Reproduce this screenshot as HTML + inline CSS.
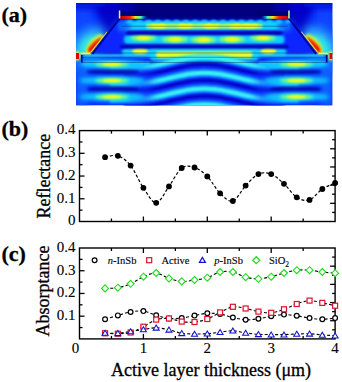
<!DOCTYPE html><html><head><meta charset="utf-8"><style>html,body{margin:0;padding:0;background:#fff;width:342px;height:382px;overflow:hidden}svg{display:block}</style></head><body>
<svg width="342" height="382" viewBox="0 0 342 382">
<rect width="342" height="382" fill="#fff"/>
<defs>
<clipPath id="hc"><rect x="76.0" y="3.0" width="256.5" height="102.6"/></clipPath>
<filter id="b05" x="-50%" y="-50%" width="200%" height="200%"><feGaussianBlur stdDeviation="0.5"/></filter>
<filter id="b08" x="-50%" y="-50%" width="200%" height="200%"><feGaussianBlur stdDeviation="0.8"/></filter>
<filter id="b1" x="-50%" y="-50%" width="200%" height="200%"><feGaussianBlur stdDeviation="1"/></filter>
<filter id="b15" x="-50%" y="-50%" width="200%" height="200%"><feGaussianBlur stdDeviation="1.5"/></filter>
<filter id="b2" x="-50%" y="-50%" width="200%" height="200%"><feGaussianBlur stdDeviation="2"/></filter>
<filter id="b25" x="-50%" y="-50%" width="200%" height="200%"><feGaussianBlur stdDeviation="2.5"/></filter>
<filter id="b3" x="-50%" y="-50%" width="200%" height="200%"><feGaussianBlur stdDeviation="3"/></filter>
<filter id="b4" x="-50%" y="-50%" width="200%" height="200%"><feGaussianBlur stdDeviation="4"/></filter>
<filter id="b6" x="-50%" y="-50%" width="200%" height="200%"><feGaussianBlur stdDeviation="6"/></filter>
<filter id="b8" x="-50%" y="-50%" width="200%" height="200%"><feGaussianBlur stdDeviation="8"/></filter>
</defs>
<g clip-path="url(#hc)">
<rect x="76.0" y="3.0" width="256.5" height="102.6" fill="#0a2cff"/>
<rect x="74.0" y="8" width="18" height="40" fill="#0a48ff" filter="url(#b6)"/>
<ellipse cx="78.0" cy="52" rx="24" ry="20" fill="#1070ff" filter="url(#b6)"/>
<ellipse cx="106.0" cy="24" rx="16" ry="6" fill="#0000c0" filter="url(#b4)" transform="rotate(-51.7 106.0 24)"/>
<rect x="316.5" y="8" width="18" height="40" fill="#0a48ff" filter="url(#b6)"/>
<ellipse cx="330.5" cy="52" rx="24" ry="20" fill="#1070ff" filter="url(#b6)"/>
<ellipse cx="302.5" cy="24" rx="16" ry="6" fill="#0000c0" filter="url(#b4)" transform="rotate(51.7 302.5 24)"/>
<ellipse cx="110" cy="10" rx="14" ry="10" fill="#0000c8" filter="url(#b3)"/>
<ellipse cx="298.5" cy="10" rx="14" ry="10" fill="#0000c8" filter="url(#b3)"/>
<rect x="118" y="-5" width="172.5" height="25" fill="#0000a8" filter="url(#b2)"/>
<rect x="135" y="-5" width="138.5" height="24" fill="#000080" filter="url(#b2)"/>
<rect x="70" y="-5" width="35" height="12" fill="#0008c8" filter="url(#b4)"/>
<rect x="303.5" y="-5" width="35" height="12" fill="#0008c8" filter="url(#b4)"/>
<polygon points="120,21 288.5,21 318.5,53 90,53" fill="#0828ff" filter="url(#b1)"/>
<rect x="124" y="21" width="160.5" height="9.5" rx="3" fill="#10d0ff" filter="url(#b1)"/>
<rect x="118" y="21" width="12" height="10" fill="#0a70ff" filter="url(#b2)"/>
<rect x="278.5" y="21" width="12" height="10" fill="#0a70ff" filter="url(#b2)"/>
<rect x="146" y="23.5" width="116.5" height="5" rx="2" fill="#b0ff50" filter="url(#b1)"/>
<ellipse cx="159.0" cy="26" rx="8" ry="2.3" fill="#ffff00" filter="url(#b08)"/>
<ellipse cx="185.0" cy="26" rx="8" ry="2.3" fill="#ffff00" filter="url(#b08)"/>
<ellipse cx="211.0" cy="26" rx="8" ry="2.3" fill="#ffff00" filter="url(#b08)"/>
<ellipse cx="237.0" cy="26" rx="8" ry="2.3" fill="#ffff00" filter="url(#b08)"/>
<ellipse cx="250.0" cy="26" rx="8" ry="2.3" fill="#ffff00" filter="url(#b08)"/>
<ellipse cx="130.0" cy="21.5" rx="3" ry="1.6" fill="#20d0ff" filter="url(#b08)"/>
<ellipse cx="139.3" cy="21.5" rx="3" ry="1.6" fill="#20d0ff" filter="url(#b08)"/>
<ellipse cx="148.6" cy="21.5" rx="3" ry="1.6" fill="#20d0ff" filter="url(#b08)"/>
<ellipse cx="157.9" cy="21.5" rx="3" ry="1.6" fill="#20d0ff" filter="url(#b08)"/>
<ellipse cx="167.2" cy="21.5" rx="3" ry="1.6" fill="#20d0ff" filter="url(#b08)"/>
<ellipse cx="176.5" cy="21.5" rx="3" ry="1.6" fill="#20d0ff" filter="url(#b08)"/>
<ellipse cx="185.8" cy="21.5" rx="3" ry="1.6" fill="#20d0ff" filter="url(#b08)"/>
<ellipse cx="195.1" cy="21.5" rx="3" ry="1.6" fill="#20d0ff" filter="url(#b08)"/>
<ellipse cx="204.4" cy="21.5" rx="3" ry="1.6" fill="#20d0ff" filter="url(#b08)"/>
<ellipse cx="213.7" cy="21.5" rx="3" ry="1.6" fill="#20d0ff" filter="url(#b08)"/>
<ellipse cx="223.0" cy="21.5" rx="3" ry="1.6" fill="#20d0ff" filter="url(#b08)"/>
<ellipse cx="232.3" cy="21.5" rx="3" ry="1.6" fill="#20d0ff" filter="url(#b08)"/>
<ellipse cx="241.6" cy="21.5" rx="3" ry="1.6" fill="#20d0ff" filter="url(#b08)"/>
<ellipse cx="250.9" cy="21.5" rx="3" ry="1.6" fill="#20d0ff" filter="url(#b08)"/>
<ellipse cx="260.2" cy="21.5" rx="3" ry="1.6" fill="#20d0ff" filter="url(#b08)"/>
<ellipse cx="269.5" cy="21.5" rx="3" ry="1.6" fill="#20d0ff" filter="url(#b08)"/>
<ellipse cx="278.8" cy="21.5" rx="3" ry="1.6" fill="#20d0ff" filter="url(#b08)"/>
<ellipse cx="288.1" cy="21.5" rx="3" ry="1.6" fill="#20d0ff" filter="url(#b08)"/>
<rect x="124" y="35" width="160.5" height="9" rx="4" fill="#10d0ff" filter="url(#b15)"/>
<ellipse cx="143.5" cy="37.8" rx="13" ry="3.4" fill="#80ff70" filter="url(#b15)"/>
<ellipse cx="143.5" cy="37.8" rx="7" ry="2" fill="#ffff10" filter="url(#b1)"/>
<ellipse cx="175.0" cy="39.4" rx="13" ry="3.4" fill="#80ff70" filter="url(#b15)"/>
<ellipse cx="175.0" cy="39.4" rx="7" ry="2" fill="#ffff10" filter="url(#b1)"/>
<ellipse cx="203.5" cy="39.8" rx="13" ry="3.4" fill="#80ff70" filter="url(#b15)"/>
<ellipse cx="203.5" cy="39.8" rx="7" ry="2" fill="#ffff10" filter="url(#b1)"/>
<ellipse cx="232.0" cy="39.4" rx="13" ry="3.4" fill="#80ff70" filter="url(#b15)"/>
<ellipse cx="232.0" cy="39.4" rx="7" ry="2" fill="#ffff10" filter="url(#b1)"/>
<ellipse cx="263.0" cy="37.8" rx="13" ry="3.4" fill="#80ff70" filter="url(#b15)"/>
<ellipse cx="263.0" cy="37.8" rx="7" ry="2" fill="#ffff10" filter="url(#b1)"/>
<rect x="122" y="48" width="164.5" height="8" rx="4" fill="#18d0ff" filter="url(#b15)"/>
<rect x="84" y="54.3" width="240.5" height="2.8" fill="#20c8ff" filter="url(#b08)"/>
<rect x="150" y="48" width="108.5" height="13" rx="4" fill="#18d0ff" filter="url(#b15)"/>
<rect x="156" y="51.5" width="96.5" height="6.5" rx="3" fill="#e0ff30" filter="url(#b1)"/>
<ellipse cx="140.0" cy="51" rx="8" ry="3" fill="#f0ff20" filter="url(#b1)"/>
<ellipse cx="268.5" cy="51" rx="8" ry="3" fill="#f0ff20" filter="url(#b1)"/>
<rect x="126" y="31.2" width="156.5" height="3.6" rx="1.5" fill="#0000b0" filter="url(#b08)"/>
<rect x="120" y="45" width="168.5" height="3.6" rx="1.5" fill="#0000b0" filter="url(#b08)"/>
<rect x="76" y="62" width="12" height="44" fill="#1060ff" filter="url(#b3)"/>
<rect x="320.5" y="62" width="12" height="44" fill="#1060ff" filter="url(#b3)"/>
<rect x="125" y="63" width="158.5" height="43" fill="#0830ff" filter="url(#b3)"/>
<path d="M110.00,67.60 C110.79,67.60 113.14,67.60 114.71,67.60 C116.28,67.60 117.85,67.60 119.42,67.60 C121.00,67.60 122.57,67.60 124.14,67.60 C125.71,67.60 127.28,67.60 128.85,67.60 C130.42,67.60 131.99,67.61 133.56,67.60 C135.13,67.59 136.70,67.58 138.28,67.51 C139.85,67.45 141.42,67.34 142.99,67.20 C144.56,67.06 146.13,66.88 147.70,66.67 C149.27,66.46 150.84,66.22 152.41,65.95 C153.98,65.68 155.55,65.38 157.12,65.07 C158.70,64.75 160.27,64.41 161.84,64.06 C163.41,63.72 164.98,63.35 166.55,62.98 C168.12,62.62 169.69,62.24 171.26,61.88 C172.83,61.51 174.40,61.14 175.97,60.79 C177.55,60.44 179.12,60.09 180.69,59.77 C182.26,59.45 183.83,59.14 185.40,58.87 C186.97,58.59 188.54,58.34 190.11,58.12 C191.68,57.90 193.25,57.71 194.82,57.56 C196.40,57.41 197.97,57.29 199.54,57.22 C201.11,57.14 202.68,57.10 204.25,57.10 C205.82,57.10 207.39,57.14 208.96,57.22 C210.53,57.29 212.10,57.41 213.68,57.56 C215.25,57.71 216.82,57.90 218.39,58.12 C219.96,58.34 221.53,58.59 223.10,58.87 C224.67,59.14 226.24,59.45 227.81,59.77 C229.38,60.09 230.95,60.44 232.53,60.79 C234.10,61.14 235.67,61.51 237.24,61.88 C238.81,62.24 240.38,62.62 241.95,62.98 C243.52,63.35 245.09,63.72 246.66,64.06 C248.23,64.41 249.80,64.75 251.38,65.07 C252.95,65.38 254.52,65.68 256.09,65.95 C257.66,66.22 259.23,66.46 260.80,66.67 C262.37,66.88 263.94,67.06 265.51,67.20 C267.08,67.34 268.65,67.45 270.23,67.51 C271.80,67.58 273.37,67.59 274.94,67.60 C276.51,67.61 278.08,67.60 279.65,67.60 C281.22,67.60 282.79,67.60 284.36,67.60 C285.93,67.60 287.50,67.60 289.07,67.60 C290.65,67.60 292.22,67.60 293.79,67.60 C295.36,67.60 297.71,67.60 298.50,67.60" fill="none" stroke="#18e0ff" stroke-width="6.2" filter="url(#b15)"/>
<path d="M142.99,67.20 C143.77,67.11 146.13,66.88 147.70,66.67 C149.27,66.46 150.84,66.22 152.41,65.95 C153.98,65.68 155.55,65.38 157.12,65.07 C158.70,64.75 160.27,64.41 161.84,64.06 C163.41,63.72 164.98,63.35 166.55,62.98 C168.12,62.62 169.69,62.24 171.26,61.88 C172.83,61.51 174.40,61.14 175.97,60.79 C177.55,60.44 179.12,60.09 180.69,59.77 C182.26,59.45 183.83,59.14 185.40,58.87 C186.97,58.59 188.54,58.34 190.11,58.12 C191.68,57.90 193.25,57.71 194.82,57.56 C196.40,57.41 197.97,57.29 199.54,57.22 C201.11,57.14 202.68,57.10 204.25,57.10 C205.82,57.10 207.39,57.14 208.96,57.22 C210.53,57.29 212.10,57.41 213.68,57.56 C215.25,57.71 216.82,57.90 218.39,58.12 C219.96,58.34 221.53,58.59 223.10,58.87 C224.67,59.14 226.24,59.45 227.81,59.77 C229.38,60.09 230.95,60.44 232.53,60.79 C234.10,61.14 235.67,61.51 237.24,61.88 C238.81,62.24 240.38,62.62 241.95,62.98 C243.52,63.35 245.09,63.72 246.66,64.06 C248.23,64.41 249.80,64.75 251.38,65.07 C252.95,65.38 254.52,65.68 256.09,65.95 C257.66,66.22 259.23,66.46 260.80,66.67 C262.37,66.88 264.73,67.11 265.51,67.20" fill="none" stroke="#70ffe8" stroke-width="1.8" filter="url(#b1)" opacity="0.8"/>
<path d="M110.00,83.40 C110.79,83.40 113.14,83.40 114.71,83.40 C116.28,83.40 117.85,83.40 119.42,83.40 C121.00,83.40 122.57,83.40 124.14,83.40 C125.71,83.40 127.28,83.40 128.85,83.40 C130.42,83.40 131.99,83.41 133.56,83.40 C135.13,83.39 136.70,83.38 138.28,83.31 C139.85,83.25 141.42,83.14 142.99,83.00 C144.56,82.86 146.13,82.68 147.70,82.47 C149.27,82.26 150.84,82.02 152.41,81.75 C153.98,81.48 155.55,81.18 157.12,80.87 C158.70,80.55 160.27,80.21 161.84,79.86 C163.41,79.52 164.98,79.15 166.55,78.78 C168.12,78.42 169.69,78.04 171.26,77.68 C172.83,77.31 174.40,76.94 175.97,76.59 C177.55,76.24 179.12,75.89 180.69,75.57 C182.26,75.25 183.83,74.94 185.40,74.67 C186.97,74.39 188.54,74.14 190.11,73.92 C191.68,73.70 193.25,73.51 194.82,73.36 C196.40,73.21 197.97,73.09 199.54,73.02 C201.11,72.94 202.68,72.90 204.25,72.90 C205.82,72.90 207.39,72.94 208.96,73.02 C210.53,73.09 212.10,73.21 213.68,73.36 C215.25,73.51 216.82,73.70 218.39,73.92 C219.96,74.14 221.53,74.39 223.10,74.67 C224.67,74.94 226.24,75.25 227.81,75.57 C229.38,75.89 230.95,76.24 232.53,76.59 C234.10,76.94 235.67,77.31 237.24,77.68 C238.81,78.04 240.38,78.42 241.95,78.78 C243.52,79.15 245.09,79.52 246.66,79.86 C248.23,80.21 249.80,80.55 251.38,80.87 C252.95,81.18 254.52,81.48 256.09,81.75 C257.66,82.02 259.23,82.26 260.80,82.47 C262.37,82.68 263.94,82.86 265.51,83.00 C267.08,83.14 268.65,83.25 270.23,83.31 C271.80,83.38 273.37,83.39 274.94,83.40 C276.51,83.41 278.08,83.40 279.65,83.40 C281.22,83.40 282.79,83.40 284.36,83.40 C285.93,83.40 287.50,83.40 289.07,83.40 C290.65,83.40 292.22,83.40 293.79,83.40 C295.36,83.40 297.71,83.40 298.50,83.40" fill="none" stroke="#18e0ff" stroke-width="6.2" filter="url(#b15)"/>
<path d="M142.99,83.00 C143.77,82.91 146.13,82.68 147.70,82.47 C149.27,82.26 150.84,82.02 152.41,81.75 C153.98,81.48 155.55,81.18 157.12,80.87 C158.70,80.55 160.27,80.21 161.84,79.86 C163.41,79.52 164.98,79.15 166.55,78.78 C168.12,78.42 169.69,78.04 171.26,77.68 C172.83,77.31 174.40,76.94 175.97,76.59 C177.55,76.24 179.12,75.89 180.69,75.57 C182.26,75.25 183.83,74.94 185.40,74.67 C186.97,74.39 188.54,74.14 190.11,73.92 C191.68,73.70 193.25,73.51 194.82,73.36 C196.40,73.21 197.97,73.09 199.54,73.02 C201.11,72.94 202.68,72.90 204.25,72.90 C205.82,72.90 207.39,72.94 208.96,73.02 C210.53,73.09 212.10,73.21 213.68,73.36 C215.25,73.51 216.82,73.70 218.39,73.92 C219.96,74.14 221.53,74.39 223.10,74.67 C224.67,74.94 226.24,75.25 227.81,75.57 C229.38,75.89 230.95,76.24 232.53,76.59 C234.10,76.94 235.67,77.31 237.24,77.68 C238.81,78.04 240.38,78.42 241.95,78.78 C243.52,79.15 245.09,79.52 246.66,79.86 C248.23,80.21 249.80,80.55 251.38,80.87 C252.95,81.18 254.52,81.48 256.09,81.75 C257.66,82.02 259.23,82.26 260.80,82.47 C262.37,82.68 264.73,82.91 265.51,83.00" fill="none" stroke="#70ffe8" stroke-width="1.8" filter="url(#b1)" opacity="0.8"/>
<path d="M110.00,99.20 C110.79,99.20 113.14,99.20 114.71,99.20 C116.28,99.20 117.85,99.20 119.42,99.20 C121.00,99.20 122.57,99.20 124.14,99.20 C125.71,99.20 127.28,99.20 128.85,99.20 C130.42,99.20 131.99,99.21 133.56,99.20 C135.13,99.19 136.70,99.18 138.28,99.11 C139.85,99.05 141.42,98.94 142.99,98.80 C144.56,98.66 146.13,98.48 147.70,98.27 C149.27,98.06 150.84,97.82 152.41,97.55 C153.98,97.28 155.55,96.98 157.12,96.67 C158.70,96.35 160.27,96.01 161.84,95.66 C163.41,95.32 164.98,94.95 166.55,94.58 C168.12,94.22 169.69,93.84 171.26,93.48 C172.83,93.11 174.40,92.74 175.97,92.39 C177.55,92.04 179.12,91.69 180.69,91.37 C182.26,91.05 183.83,90.74 185.40,90.47 C186.97,90.19 188.54,89.94 190.11,89.72 C191.68,89.50 193.25,89.31 194.82,89.16 C196.40,89.01 197.97,88.89 199.54,88.82 C201.11,88.74 202.68,88.70 204.25,88.70 C205.82,88.70 207.39,88.74 208.96,88.82 C210.53,88.89 212.10,89.01 213.68,89.16 C215.25,89.31 216.82,89.50 218.39,89.72 C219.96,89.94 221.53,90.19 223.10,90.47 C224.67,90.74 226.24,91.05 227.81,91.37 C229.38,91.69 230.95,92.04 232.53,92.39 C234.10,92.74 235.67,93.11 237.24,93.48 C238.81,93.84 240.38,94.22 241.95,94.58 C243.52,94.95 245.09,95.32 246.66,95.66 C248.23,96.01 249.80,96.35 251.38,96.67 C252.95,96.98 254.52,97.28 256.09,97.55 C257.66,97.82 259.23,98.06 260.80,98.27 C262.37,98.48 263.94,98.66 265.51,98.80 C267.08,98.94 268.65,99.05 270.23,99.11 C271.80,99.18 273.37,99.19 274.94,99.20 C276.51,99.21 278.08,99.20 279.65,99.20 C281.22,99.20 282.79,99.20 284.36,99.20 C285.93,99.20 287.50,99.20 289.07,99.20 C290.65,99.20 292.22,99.20 293.79,99.20 C295.36,99.20 297.71,99.20 298.50,99.20" fill="none" stroke="#18e0ff" stroke-width="6.2" filter="url(#b15)"/>
<path d="M142.99,98.80 C143.77,98.71 146.13,98.48 147.70,98.27 C149.27,98.06 150.84,97.82 152.41,97.55 C153.98,97.28 155.55,96.98 157.12,96.67 C158.70,96.35 160.27,96.01 161.84,95.66 C163.41,95.32 164.98,94.95 166.55,94.58 C168.12,94.22 169.69,93.84 171.26,93.48 C172.83,93.11 174.40,92.74 175.97,92.39 C177.55,92.04 179.12,91.69 180.69,91.37 C182.26,91.05 183.83,90.74 185.40,90.47 C186.97,90.19 188.54,89.94 190.11,89.72 C191.68,89.50 193.25,89.31 194.82,89.16 C196.40,89.01 197.97,88.89 199.54,88.82 C201.11,88.74 202.68,88.70 204.25,88.70 C205.82,88.70 207.39,88.74 208.96,88.82 C210.53,88.89 212.10,89.01 213.68,89.16 C215.25,89.31 216.82,89.50 218.39,89.72 C219.96,89.94 221.53,90.19 223.10,90.47 C224.67,90.74 226.24,91.05 227.81,91.37 C229.38,91.69 230.95,92.04 232.53,92.39 C234.10,92.74 235.67,93.11 237.24,93.48 C238.81,93.84 240.38,94.22 241.95,94.58 C243.52,94.95 245.09,95.32 246.66,95.66 C248.23,96.01 249.80,96.35 251.38,96.67 C252.95,96.98 254.52,97.28 256.09,97.55 C257.66,97.82 259.23,98.06 260.80,98.27 C262.37,98.48 264.73,98.71 265.51,98.80" fill="none" stroke="#70ffe8" stroke-width="1.8" filter="url(#b1)" opacity="0.8"/>
<path d="M110.00,115.00 C110.79,115.00 113.14,115.00 114.71,115.00 C116.28,115.00 117.85,115.00 119.42,115.00 C121.00,115.00 122.57,115.00 124.14,115.00 C125.71,115.00 127.28,115.00 128.85,115.00 C130.42,115.00 131.99,115.01 133.56,115.00 C135.13,114.99 136.70,114.98 138.28,114.91 C139.85,114.85 141.42,114.74 142.99,114.60 C144.56,114.46 146.13,114.28 147.70,114.07 C149.27,113.86 150.84,113.62 152.41,113.35 C153.98,113.08 155.55,112.78 157.12,112.47 C158.70,112.15 160.27,111.81 161.84,111.46 C163.41,111.12 164.98,110.75 166.55,110.38 C168.12,110.02 169.69,109.64 171.26,109.28 C172.83,108.91 174.40,108.54 175.97,108.19 C177.55,107.84 179.12,107.49 180.69,107.17 C182.26,106.85 183.83,106.54 185.40,106.27 C186.97,105.99 188.54,105.74 190.11,105.52 C191.68,105.30 193.25,105.11 194.82,104.96 C196.40,104.81 197.97,104.69 199.54,104.62 C201.11,104.54 202.68,104.50 204.25,104.50 C205.82,104.50 207.39,104.54 208.96,104.62 C210.53,104.69 212.10,104.81 213.68,104.96 C215.25,105.11 216.82,105.30 218.39,105.52 C219.96,105.74 221.53,105.99 223.10,106.27 C224.67,106.54 226.24,106.85 227.81,107.17 C229.38,107.49 230.95,107.84 232.53,108.19 C234.10,108.54 235.67,108.91 237.24,109.28 C238.81,109.64 240.38,110.02 241.95,110.38 C243.52,110.75 245.09,111.12 246.66,111.46 C248.23,111.81 249.80,112.15 251.38,112.47 C252.95,112.78 254.52,113.08 256.09,113.35 C257.66,113.62 259.23,113.86 260.80,114.07 C262.37,114.28 263.94,114.46 265.51,114.60 C267.08,114.74 268.65,114.85 270.23,114.91 C271.80,114.98 273.37,114.99 274.94,115.00 C276.51,115.01 278.08,115.00 279.65,115.00 C281.22,115.00 282.79,115.00 284.36,115.00 C285.93,115.00 287.50,115.00 289.07,115.00 C290.65,115.00 292.22,115.00 293.79,115.00 C295.36,115.00 297.71,115.00 298.50,115.00" fill="none" stroke="#18e0ff" stroke-width="6.2" filter="url(#b15)"/>
<path d="M142.99,114.60 C143.77,114.51 146.13,114.28 147.70,114.07 C149.27,113.86 150.84,113.62 152.41,113.35 C153.98,113.08 155.55,112.78 157.12,112.47 C158.70,112.15 160.27,111.81 161.84,111.46 C163.41,111.12 164.98,110.75 166.55,110.38 C168.12,110.02 169.69,109.64 171.26,109.28 C172.83,108.91 174.40,108.54 175.97,108.19 C177.55,107.84 179.12,107.49 180.69,107.17 C182.26,106.85 183.83,106.54 185.40,106.27 C186.97,105.99 188.54,105.74 190.11,105.52 C191.68,105.30 193.25,105.11 194.82,104.96 C196.40,104.81 197.97,104.69 199.54,104.62 C201.11,104.54 202.68,104.50 204.25,104.50 C205.82,104.50 207.39,104.54 208.96,104.62 C210.53,104.69 212.10,104.81 213.68,104.96 C215.25,105.11 216.82,105.30 218.39,105.52 C219.96,105.74 221.53,105.99 223.10,106.27 C224.67,106.54 226.24,106.85 227.81,107.17 C229.38,107.49 230.95,107.84 232.53,108.19 C234.10,108.54 235.67,108.91 237.24,109.28 C238.81,109.64 240.38,110.02 241.95,110.38 C243.52,110.75 245.09,111.12 246.66,111.46 C248.23,111.81 249.80,112.15 251.38,112.47 C252.95,112.78 254.52,113.08 256.09,113.35 C257.66,113.62 259.23,113.86 260.80,114.07 C262.37,114.28 264.73,114.51 265.51,114.60" fill="none" stroke="#70ffe8" stroke-width="1.8" filter="url(#b1)" opacity="0.8"/>
<path d="M124.14,75.00 C124.92,75.00 127.28,75.00 128.85,75.00 C130.42,75.00 131.99,75.01 133.56,75.00 C135.13,74.99 136.70,74.98 138.28,74.91 C139.85,74.85 141.42,74.74 142.99,74.60 C144.56,74.46 146.13,74.28 147.70,74.07 C149.27,73.86 150.84,73.62 152.41,73.35 C153.98,73.08 155.55,72.78 157.12,72.47 C158.70,72.15 160.27,71.81 161.84,71.46 C163.41,71.12 164.98,70.75 166.55,70.38 C168.12,70.02 169.69,69.64 171.26,69.28 C172.83,68.91 174.40,68.54 175.97,68.19 C177.55,67.84 179.12,67.49 180.69,67.17 C182.26,66.85 183.83,66.54 185.40,66.27 C186.97,65.99 188.54,65.74 190.11,65.52 C191.68,65.30 193.25,65.11 194.82,64.96 C196.40,64.81 197.97,64.69 199.54,64.62 C201.11,64.54 202.68,64.50 204.25,64.50 C205.82,64.50 207.39,64.54 208.96,64.62 C210.53,64.69 212.10,64.81 213.68,64.96 C215.25,65.11 216.82,65.30 218.39,65.52 C219.96,65.74 221.53,65.99 223.10,66.27 C224.67,66.54 226.24,66.85 227.81,67.17 C229.38,67.49 230.95,67.84 232.53,68.19 C234.10,68.54 235.67,68.91 237.24,69.28 C238.81,69.64 240.38,70.02 241.95,70.38 C243.52,70.75 245.09,71.12 246.66,71.46 C248.23,71.81 249.80,72.15 251.38,72.47 C252.95,72.78 254.52,73.08 256.09,73.35 C257.66,73.62 259.23,73.86 260.80,74.07 C262.37,74.28 263.94,74.46 265.51,74.60 C267.08,74.74 268.65,74.85 270.23,74.91 C271.80,74.98 273.37,74.99 274.94,75.00 C276.51,75.01 278.08,75.00 279.65,75.00 C281.22,75.00 283.58,75.00 284.36,75.00" fill="none" stroke="#0000c0" stroke-width="3.2" filter="url(#b1)"/>
<path d="M124.14,90.80 C124.92,90.80 127.28,90.80 128.85,90.80 C130.42,90.80 131.99,90.81 133.56,90.80 C135.13,90.79 136.70,90.78 138.28,90.71 C139.85,90.65 141.42,90.54 142.99,90.40 C144.56,90.26 146.13,90.08 147.70,89.87 C149.27,89.66 150.84,89.42 152.41,89.15 C153.98,88.88 155.55,88.58 157.12,88.27 C158.70,87.95 160.27,87.61 161.84,87.26 C163.41,86.92 164.98,86.55 166.55,86.18 C168.12,85.82 169.69,85.44 171.26,85.08 C172.83,84.71 174.40,84.34 175.97,83.99 C177.55,83.64 179.12,83.29 180.69,82.97 C182.26,82.65 183.83,82.34 185.40,82.07 C186.97,81.79 188.54,81.54 190.11,81.32 C191.68,81.10 193.25,80.91 194.82,80.76 C196.40,80.61 197.97,80.49 199.54,80.42 C201.11,80.34 202.68,80.30 204.25,80.30 C205.82,80.30 207.39,80.34 208.96,80.42 C210.53,80.49 212.10,80.61 213.68,80.76 C215.25,80.91 216.82,81.10 218.39,81.32 C219.96,81.54 221.53,81.79 223.10,82.07 C224.67,82.34 226.24,82.65 227.81,82.97 C229.38,83.29 230.95,83.64 232.53,83.99 C234.10,84.34 235.67,84.71 237.24,85.08 C238.81,85.44 240.38,85.82 241.95,86.18 C243.52,86.55 245.09,86.92 246.66,87.26 C248.23,87.61 249.80,87.95 251.38,88.27 C252.95,88.58 254.52,88.88 256.09,89.15 C257.66,89.42 259.23,89.66 260.80,89.87 C262.37,90.08 263.94,90.26 265.51,90.40 C267.08,90.54 268.65,90.65 270.23,90.71 C271.80,90.78 273.37,90.79 274.94,90.80 C276.51,90.81 278.08,90.80 279.65,90.80 C281.22,90.80 283.58,90.80 284.36,90.80" fill="none" stroke="#0000c0" stroke-width="3.2" filter="url(#b1)"/>
<path d="M124.14,106.60 C124.92,106.60 127.28,106.60 128.85,106.60 C130.42,106.60 131.99,106.61 133.56,106.60 C135.13,106.59 136.70,106.58 138.28,106.51 C139.85,106.45 141.42,106.34 142.99,106.20 C144.56,106.06 146.13,105.88 147.70,105.67 C149.27,105.46 150.84,105.22 152.41,104.95 C153.98,104.68 155.55,104.38 157.12,104.07 C158.70,103.75 160.27,103.41 161.84,103.06 C163.41,102.72 164.98,102.35 166.55,101.98 C168.12,101.62 169.69,101.24 171.26,100.88 C172.83,100.51 174.40,100.14 175.97,99.79 C177.55,99.44 179.12,99.09 180.69,98.77 C182.26,98.45 183.83,98.14 185.40,97.87 C186.97,97.59 188.54,97.34 190.11,97.12 C191.68,96.90 193.25,96.71 194.82,96.56 C196.40,96.41 197.97,96.29 199.54,96.22 C201.11,96.14 202.68,96.10 204.25,96.10 C205.82,96.10 207.39,96.14 208.96,96.22 C210.53,96.29 212.10,96.41 213.68,96.56 C215.25,96.71 216.82,96.90 218.39,97.12 C219.96,97.34 221.53,97.59 223.10,97.87 C224.67,98.14 226.24,98.45 227.81,98.77 C229.38,99.09 230.95,99.44 232.53,99.79 C234.10,100.14 235.67,100.51 237.24,100.88 C238.81,101.24 240.38,101.62 241.95,101.98 C243.52,102.35 245.09,102.72 246.66,103.06 C248.23,103.41 249.80,103.75 251.38,104.07 C252.95,104.38 254.52,104.68 256.09,104.95 C257.66,105.22 259.23,105.46 260.80,105.67 C262.37,105.88 263.94,106.06 265.51,106.20 C267.08,106.34 268.65,106.45 270.23,106.51 C271.80,106.58 273.37,106.59 274.94,106.60 C276.51,106.61 278.08,106.60 279.65,106.60 C281.22,106.60 283.58,106.60 284.36,106.60" fill="none" stroke="#0000c0" stroke-width="3.2" filter="url(#b1)"/>
<rect x="128" y="68" width="24" height="40" fill="#0838ff" opacity="0.55" filter="url(#b4)"/>
<rect x="256.5" y="68" width="24" height="40" fill="#0838ff" opacity="0.55" filter="url(#b4)"/>
<rect x="84" y="62" width="66" height="3" fill="#18d8ff" filter="url(#b1)"/>
<rect x="258.5" y="62" width="66" height="3" fill="#18d8ff" filter="url(#b1)"/>
<ellipse cx="113.0" cy="71.5" rx="26" ry="3" fill="#0000b0" filter="url(#b15)"/>
<ellipse cx="113.0" cy="89.3" rx="26" ry="3" fill="#0000b0" filter="url(#b15)"/>
<ellipse cx="295.5" cy="71.5" rx="26" ry="3" fill="#0000b0" filter="url(#b15)"/>
<ellipse cx="295.5" cy="89.3" rx="26" ry="3" fill="#0000b0" filter="url(#b15)"/>
<ellipse cx="112.0" cy="64.3" rx="33" ry="4.6" fill="#10c8ff" filter="url(#b2)"/>
<ellipse cx="112.0" cy="64.3" rx="17" ry="2.6" fill="#70ff90" filter="url(#b15)"/>
<ellipse cx="112.0" cy="64.3" rx="10" ry="1.6" fill="#f8ff10" filter="url(#b1)"/>
<ellipse cx="296.5" cy="64.3" rx="33" ry="4.6" fill="#10c8ff" filter="url(#b2)"/>
<ellipse cx="296.5" cy="64.3" rx="17" ry="2.6" fill="#70ff90" filter="url(#b15)"/>
<ellipse cx="296.5" cy="64.3" rx="10" ry="1.6" fill="#f8ff10" filter="url(#b1)"/>
<ellipse cx="112.0" cy="80.6" rx="33" ry="4.6" fill="#10c8ff" filter="url(#b2)"/>
<ellipse cx="112.0" cy="80.6" rx="17" ry="2.6" fill="#70ff90" filter="url(#b15)"/>
<ellipse cx="112.0" cy="80.6" rx="10" ry="1.6" fill="#f8ff10" filter="url(#b1)"/>
<ellipse cx="296.5" cy="80.6" rx="33" ry="4.6" fill="#10c8ff" filter="url(#b2)"/>
<ellipse cx="296.5" cy="80.6" rx="17" ry="2.6" fill="#70ff90" filter="url(#b15)"/>
<ellipse cx="296.5" cy="80.6" rx="10" ry="1.6" fill="#f8ff10" filter="url(#b1)"/>
<ellipse cx="112.0" cy="96.8" rx="33" ry="4.6" fill="#10c8ff" filter="url(#b2)"/>
<ellipse cx="112.0" cy="96.8" rx="17" ry="2.6" fill="#70ff90" filter="url(#b15)"/>
<ellipse cx="112.0" cy="96.8" rx="10" ry="1.6" fill="#f8ff10" filter="url(#b1)"/>
<ellipse cx="296.5" cy="96.8" rx="33" ry="4.6" fill="#10c8ff" filter="url(#b2)"/>
<ellipse cx="296.5" cy="96.8" rx="17" ry="2.6" fill="#70ff90" filter="url(#b15)"/>
<ellipse cx="296.5" cy="96.8" rx="10" ry="1.6" fill="#f8ff10" filter="url(#b1)"/>
<clipPath id="outL"><polygon points="0,0 119.5,0 119.5,17 90.6,53.6 0,53.6"/></clipPath>
<clipPath id="outR"><polygon points="400,0 289.0,0 289.0,17 317.9,53.6 400,53.6"/></clipPath>
<g clip-path="url(#outL)">
<ellipse cx="90.0" cy="42" rx="20" ry="12" fill="#2898ff" filter="url(#b4)" transform="rotate(-51.7 90.0 42)"/>
<ellipse cx="88.0" cy="46" rx="13" ry="8" fill="#30e8e0" filter="url(#b3)" transform="rotate(-51.7 88.0 46)"/>
<ellipse cx="95.0" cy="44" rx="12" ry="5.5" fill="#a0ff60" filter="url(#b15)" transform="rotate(-51.7 95.0 44)"/>
<polygon points="103.1,35.95 97.1,43.45 91.6,50.95 90.1,53.95 86.6,53.45 86.6,48.45 89.6,44.45 94.1,39.95 100.1,35.95" fill="#ffc000" filter="url(#b08)"/>
<polygon points="102.0,38.05 96.5,44.75 91.2,51.75 89.2,52.65 88.2,49.45 90.6,45.95 95.1,41.45 100.4,37.75" fill="#e81000" filter="url(#b08)"/>
<line x1="107.4" y1="32" x2="90.2" y2="53.6" stroke="#ffff40" stroke-width="1.3" filter="url(#b05)"/>
</g>
<line x1="120.8" y1="17" x2="92.5" y2="54" stroke="#0000a0" stroke-width="1.8" filter="url(#b05)"/>
<rect x="80.5" y="52.6" width="10.5" height="1.8" fill="#f0ff40" filter="url(#b05)"/>
<ellipse cx="77.5" cy="56" rx="3" ry="5" fill="#d0ff40" filter="url(#b1)"/>
<rect x="76.0" y="53" width="3" height="6" fill="#e00000" filter="url(#b05)"/>
<rect x="81.0" y="55" width="1.6" height="7.5" fill="#000090" filter="url(#b05)"/>
<g clip-path="url(#outR)">
<ellipse cx="318.5" cy="42" rx="20" ry="12" fill="#2898ff" filter="url(#b4)" transform="rotate(51.7 318.5 42)"/>
<ellipse cx="320.5" cy="46" rx="13" ry="8" fill="#30e8e0" filter="url(#b3)" transform="rotate(51.7 320.5 46)"/>
<ellipse cx="313.5" cy="44" rx="12" ry="5.5" fill="#a0ff60" filter="url(#b15)" transform="rotate(51.7 313.5 44)"/>
<polygon points="305.4,35.95 311.4,43.45 316.9,50.95 318.4,53.95 321.9,53.45 321.9,48.45 318.9,44.45 314.4,39.95 308.4,35.95" fill="#ffc000" filter="url(#b08)"/>
<polygon points="306.5,38.05 312.0,44.75 317.3,51.75 319.3,52.65 320.3,49.45 317.9,45.95 313.4,41.45 308.1,37.75" fill="#e81000" filter="url(#b08)"/>
<line x1="301.1" y1="32" x2="318.3" y2="53.6" stroke="#ffff40" stroke-width="1.3" filter="url(#b05)"/>
</g>
<line x1="287.7" y1="17" x2="316.0" y2="54" stroke="#0000a0" stroke-width="1.8" filter="url(#b05)"/>
<rect x="317.5" y="52.6" width="10.5" height="1.8" fill="#f0ff40" filter="url(#b05)"/>
<ellipse cx="331.0" cy="56" rx="3" ry="5" fill="#d0ff40" filter="url(#b1)"/>
<rect x="329.5" y="53" width="3" height="6" fill="#e00000" filter="url(#b05)"/>
<rect x="325.9" y="55" width="1.6" height="7.5" fill="#000090" filter="url(#b05)"/>
<path d="M119.5,17 L90.6,53.6 M289.0,17 L317.9,53.6" stroke="#102050" stroke-width="0.6" fill="none" opacity="0.7"/>
<path d="M90,53 H318.5 M82,57.3 H326.5 M82,62.5 H326.5 M121,26.2 H287.5" stroke="#102050" stroke-width="0.6" fill="none" opacity="0.7"/>
<rect x="119.5" y="11" width="31.5" height="5.5" fill="#000070"/>
<linearGradient id="cg0" x1="0" y1="0" x2="1" y2="0"><stop offset="0" stop-color="#c00000"/><stop offset="0.35" stop-color="#ff2000"/><stop offset="0.55" stop-color="#ffe000"/><stop offset="0.75" stop-color="#40ffc0"/><stop offset="1" stop-color="#0040ff" stop-opacity="0"/></linearGradient>
<rect x="120.0" y="16" width="28.0" height="2.8" fill="url(#cg0)" filter="url(#b05)"/>
<rect x="118.8" y="10.5" width="1.5" height="8" fill="#c0ffb0" filter="url(#b05)"/>
<rect x="257.5" y="11" width="31.5" height="5.5" fill="#000070"/>
<linearGradient id="cg1" x1="1" y1="0" x2="0" y2="0"><stop offset="0" stop-color="#c00000"/><stop offset="0.35" stop-color="#ff2000"/><stop offset="0.55" stop-color="#ffe000"/><stop offset="0.75" stop-color="#40ffc0"/><stop offset="1" stop-color="#0040ff" stop-opacity="0"/></linearGradient>
<rect x="260.5" y="16" width="28.0" height="2.8" fill="url(#cg1)" filter="url(#b05)"/>
<rect x="288.2" y="10.5" width="1.5" height="8" fill="#c0ffb0" filter="url(#b05)"/>
</g>
<text x="1.5" y="22.2" font-family="'Liberation Serif', serif" stroke="#000" stroke-width="0.3" font-size="22" font-weight="bold">(a)</text>
<text x="1.5" y="136.0" font-family="'Liberation Serif', serif" stroke="#000" stroke-width="0.3" font-size="22" font-weight="bold">(b)</text>
<text x="1.5" y="260.6" font-family="'Liberation Serif', serif" stroke="#000" stroke-width="0.3" font-size="22" font-weight="bold">(c)</text>
<rect x="79.50" y="130.60" width="255.60" height="90.90" fill="none" stroke="#000" stroke-width="1.4"/>
<line x1="111.45" y1="221.50" x2="111.45" y2="218.50" stroke="#000" stroke-width="1.3"/>
<line x1="111.45" y1="130.60" x2="111.45" y2="133.60" stroke="#000" stroke-width="1.3"/>
<line x1="143.40" y1="221.50" x2="143.40" y2="216.50" stroke="#000" stroke-width="1.3"/>
<line x1="143.40" y1="130.60" x2="143.40" y2="135.60" stroke="#000" stroke-width="1.3"/>
<line x1="175.35" y1="221.50" x2="175.35" y2="218.50" stroke="#000" stroke-width="1.3"/>
<line x1="175.35" y1="130.60" x2="175.35" y2="133.60" stroke="#000" stroke-width="1.3"/>
<line x1="207.30" y1="221.50" x2="207.30" y2="216.50" stroke="#000" stroke-width="1.3"/>
<line x1="207.30" y1="130.60" x2="207.30" y2="135.60" stroke="#000" stroke-width="1.3"/>
<line x1="239.25" y1="221.50" x2="239.25" y2="218.50" stroke="#000" stroke-width="1.3"/>
<line x1="239.25" y1="130.60" x2="239.25" y2="133.60" stroke="#000" stroke-width="1.3"/>
<line x1="271.20" y1="221.50" x2="271.20" y2="216.50" stroke="#000" stroke-width="1.3"/>
<line x1="271.20" y1="130.60" x2="271.20" y2="135.60" stroke="#000" stroke-width="1.3"/>
<line x1="303.15" y1="221.50" x2="303.15" y2="218.50" stroke="#000" stroke-width="1.3"/>
<line x1="303.15" y1="130.60" x2="303.15" y2="133.60" stroke="#000" stroke-width="1.3"/>
<line x1="79.50" y1="210.14" x2="82.50" y2="210.14" stroke="#000" stroke-width="1.3"/>
<line x1="79.50" y1="198.78" x2="84.50" y2="198.78" stroke="#000" stroke-width="1.3"/>
<line x1="79.50" y1="187.41" x2="82.50" y2="187.41" stroke="#000" stroke-width="1.3"/>
<line x1="79.50" y1="176.05" x2="84.50" y2="176.05" stroke="#000" stroke-width="1.3"/>
<line x1="79.50" y1="164.69" x2="82.50" y2="164.69" stroke="#000" stroke-width="1.3"/>
<line x1="79.50" y1="153.32" x2="84.50" y2="153.32" stroke="#000" stroke-width="1.3"/>
<line x1="79.50" y1="141.96" x2="82.50" y2="141.96" stroke="#000" stroke-width="1.3"/>
<line x1="335.10" y1="139.69" x2="332.10" y2="139.69" stroke="#000" stroke-width="1.3"/>
<line x1="335.10" y1="148.78" x2="330.10" y2="148.78" stroke="#000" stroke-width="1.3"/>
<line x1="335.10" y1="157.87" x2="332.10" y2="157.87" stroke="#000" stroke-width="1.3"/>
<line x1="335.10" y1="166.96" x2="330.10" y2="166.96" stroke="#000" stroke-width="1.3"/>
<line x1="335.10" y1="176.05" x2="332.10" y2="176.05" stroke="#000" stroke-width="1.3"/>
<line x1="335.10" y1="185.14" x2="330.10" y2="185.14" stroke="#000" stroke-width="1.3"/>
<line x1="335.10" y1="194.23" x2="332.10" y2="194.23" stroke="#000" stroke-width="1.3"/>
<line x1="335.10" y1="203.32" x2="330.10" y2="203.32" stroke="#000" stroke-width="1.3"/>
<line x1="335.10" y1="212.41" x2="332.10" y2="212.41" stroke="#000" stroke-width="1.3"/>
<text x="75.6" y="225.30" font-family="'Liberation Serif', serif" stroke="#000" stroke-width="0.12" font-size="15" text-anchor="end">0</text>
<text x="75.6" y="202.58" font-family="'Liberation Serif', serif" stroke="#000" stroke-width="0.12" font-size="15" text-anchor="end">0.1</text>
<text x="75.6" y="179.85" font-family="'Liberation Serif', serif" stroke="#000" stroke-width="0.12" font-size="15" text-anchor="end">0.2</text>
<text x="75.6" y="157.12" font-family="'Liberation Serif', serif" stroke="#000" stroke-width="0.12" font-size="15" text-anchor="end">0.3</text>
<text x="75.6" y="134.40" font-family="'Liberation Serif', serif" stroke="#000" stroke-width="0.12" font-size="15" text-anchor="end">0.4</text>
<text transform="translate(50.2,218.6) rotate(-90)" font-family="'Liberation Serif', serif" stroke="#000" stroke-width="0.3" font-size="18">Reflectance</text>
<path d="M105.06,157.20 C107.19,156.97 113.58,154.40 117.84,155.80 C122.10,157.20 126.36,160.27 130.62,165.60 C134.88,170.93 139.14,181.60 143.40,187.80 C147.66,194.00 151.92,203.03 156.18,202.80 C160.44,202.57 164.70,192.20 168.96,186.40 C173.22,180.60 177.48,171.15 181.74,168.00 C186.00,164.85 190.26,166.10 194.52,167.50 C198.78,168.90 203.04,172.10 207.30,176.40 C211.56,180.70 215.82,189.20 220.08,193.30 C224.34,197.40 228.60,202.28 232.86,201.00 C237.12,199.72 241.38,190.08 245.64,185.60 C249.90,181.12 254.16,176.02 258.42,174.10 C262.68,172.18 266.94,172.48 271.20,174.10 C275.46,175.72 279.72,179.93 283.98,183.80 C288.24,187.67 292.50,194.62 296.76,197.30 C301.02,199.98 305.28,201.28 309.54,199.90 C313.80,198.52 318.06,191.82 322.32,189.00 C326.58,186.18 332.97,184.00 335.10,183.00" fill="none" stroke="#000" stroke-width="1.2" stroke-dasharray="3,2"/>
<circle cx="105.06" cy="157.20" r="2.9" fill="#000"/>
<circle cx="117.84" cy="155.80" r="2.9" fill="#000"/>
<circle cx="130.62" cy="165.60" r="2.9" fill="#000"/>
<circle cx="143.40" cy="187.80" r="2.9" fill="#000"/>
<circle cx="156.18" cy="202.80" r="2.9" fill="#000"/>
<circle cx="168.96" cy="186.40" r="2.9" fill="#000"/>
<circle cx="181.74" cy="168.00" r="2.9" fill="#000"/>
<circle cx="194.52" cy="167.50" r="2.9" fill="#000"/>
<circle cx="207.30" cy="176.40" r="2.9" fill="#000"/>
<circle cx="220.08" cy="193.30" r="2.9" fill="#000"/>
<circle cx="232.86" cy="201.00" r="2.9" fill="#000"/>
<circle cx="245.64" cy="185.60" r="2.9" fill="#000"/>
<circle cx="258.42" cy="174.10" r="2.9" fill="#000"/>
<circle cx="271.20" cy="174.10" r="2.9" fill="#000"/>
<circle cx="283.98" cy="183.80" r="2.9" fill="#000"/>
<circle cx="296.76" cy="197.30" r="2.9" fill="#000"/>
<circle cx="309.54" cy="199.90" r="2.9" fill="#000"/>
<circle cx="322.32" cy="189.00" r="2.9" fill="#000"/>
<circle cx="335.10" cy="183.00" r="2.9" fill="#000"/>
<rect x="79.50" y="248.00" width="255.60" height="90.90" fill="none" stroke="#000" stroke-width="1.4"/>
<line x1="111.45" y1="338.90" x2="111.45" y2="335.90" stroke="#000" stroke-width="1.3"/>
<line x1="111.45" y1="248.00" x2="111.45" y2="251.00" stroke="#000" stroke-width="1.3"/>
<line x1="143.40" y1="338.90" x2="143.40" y2="333.90" stroke="#000" stroke-width="1.3"/>
<line x1="143.40" y1="248.00" x2="143.40" y2="253.00" stroke="#000" stroke-width="1.3"/>
<line x1="175.35" y1="338.90" x2="175.35" y2="335.90" stroke="#000" stroke-width="1.3"/>
<line x1="175.35" y1="248.00" x2="175.35" y2="251.00" stroke="#000" stroke-width="1.3"/>
<line x1="207.30" y1="338.90" x2="207.30" y2="333.90" stroke="#000" stroke-width="1.3"/>
<line x1="207.30" y1="248.00" x2="207.30" y2="253.00" stroke="#000" stroke-width="1.3"/>
<line x1="239.25" y1="338.90" x2="239.25" y2="335.90" stroke="#000" stroke-width="1.3"/>
<line x1="239.25" y1="248.00" x2="239.25" y2="251.00" stroke="#000" stroke-width="1.3"/>
<line x1="271.20" y1="338.90" x2="271.20" y2="333.90" stroke="#000" stroke-width="1.3"/>
<line x1="271.20" y1="248.00" x2="271.20" y2="253.00" stroke="#000" stroke-width="1.3"/>
<line x1="303.15" y1="338.90" x2="303.15" y2="335.90" stroke="#000" stroke-width="1.3"/>
<line x1="303.15" y1="248.00" x2="303.15" y2="251.00" stroke="#000" stroke-width="1.3"/>
<line x1="79.50" y1="327.54" x2="82.50" y2="327.54" stroke="#000" stroke-width="1.3"/>
<line x1="79.50" y1="316.17" x2="84.50" y2="316.17" stroke="#000" stroke-width="1.3"/>
<line x1="79.50" y1="304.81" x2="82.50" y2="304.81" stroke="#000" stroke-width="1.3"/>
<line x1="79.50" y1="293.45" x2="84.50" y2="293.45" stroke="#000" stroke-width="1.3"/>
<line x1="79.50" y1="282.09" x2="82.50" y2="282.09" stroke="#000" stroke-width="1.3"/>
<line x1="79.50" y1="270.73" x2="84.50" y2="270.73" stroke="#000" stroke-width="1.3"/>
<line x1="79.50" y1="259.36" x2="82.50" y2="259.36" stroke="#000" stroke-width="1.3"/>
<line x1="335.10" y1="257.09" x2="332.10" y2="257.09" stroke="#000" stroke-width="1.3"/>
<line x1="335.10" y1="266.18" x2="330.10" y2="266.18" stroke="#000" stroke-width="1.3"/>
<line x1="335.10" y1="275.27" x2="332.10" y2="275.27" stroke="#000" stroke-width="1.3"/>
<line x1="335.10" y1="284.36" x2="330.10" y2="284.36" stroke="#000" stroke-width="1.3"/>
<line x1="335.10" y1="293.45" x2="332.10" y2="293.45" stroke="#000" stroke-width="1.3"/>
<line x1="335.10" y1="302.54" x2="330.10" y2="302.54" stroke="#000" stroke-width="1.3"/>
<line x1="335.10" y1="311.63" x2="332.10" y2="311.63" stroke="#000" stroke-width="1.3"/>
<line x1="335.10" y1="320.72" x2="330.10" y2="320.72" stroke="#000" stroke-width="1.3"/>
<line x1="335.10" y1="329.81" x2="332.10" y2="329.81" stroke="#000" stroke-width="1.3"/>
<text x="75.6" y="319.97" font-family="'Liberation Serif', serif" stroke="#000" stroke-width="0.12" font-size="15" text-anchor="end">0.1</text>
<text x="75.6" y="297.25" font-family="'Liberation Serif', serif" stroke="#000" stroke-width="0.12" font-size="15" text-anchor="end">0.2</text>
<text x="75.6" y="274.53" font-family="'Liberation Serif', serif" stroke="#000" stroke-width="0.12" font-size="15" text-anchor="end">0.3</text>
<text x="75.6" y="251.80" font-family="'Liberation Serif', serif" stroke="#000" stroke-width="0.12" font-size="15" text-anchor="end">0.4</text>
<text x="75.40" y="353.3" font-family="'Liberation Serif', serif" stroke="#000" stroke-width="0.12" font-size="15" text-anchor="middle">0</text>
<text x="143.40" y="353.3" font-family="'Liberation Serif', serif" stroke="#000" stroke-width="0.12" font-size="15" text-anchor="middle">1</text>
<text x="207.30" y="353.3" font-family="'Liberation Serif', serif" stroke="#000" stroke-width="0.12" font-size="15" text-anchor="middle">2</text>
<text x="271.20" y="353.3" font-family="'Liberation Serif', serif" stroke="#000" stroke-width="0.12" font-size="15" text-anchor="middle">3</text>
<text x="335.10" y="353.3" font-family="'Liberation Serif', serif" stroke="#000" stroke-width="0.12" font-size="15" text-anchor="middle">4</text>
<text transform="translate(48.9,336.5) rotate(-90)" font-family="'Liberation Serif', serif" stroke="#000" stroke-width="0.3" font-size="18">Absorptance</text>
<text x="111" y="375.9" font-family="'Liberation Serif', serif" stroke="#000" stroke-width="0.3" font-size="18">Active layer thickness (&#956;m)</text>
<path d="M105.06,288.40 C107.19,288.28 113.58,288.47 117.84,287.70 C122.10,286.93 126.36,285.63 130.62,283.80 C134.88,281.97 139.14,278.50 143.40,276.70 C147.66,274.90 151.92,272.72 156.18,273.00 C160.44,273.28 164.70,277.00 168.96,278.40 C173.22,279.80 177.48,281.13 181.74,281.40 C186.00,281.67 190.26,280.62 194.52,280.00 C198.78,279.38 203.04,279.03 207.30,277.70 C211.56,276.37 215.82,272.95 220.08,272.00 C224.34,271.05 228.60,271.13 232.86,272.00 C237.12,272.87 241.38,276.07 245.64,277.20 C249.90,278.33 254.16,278.88 258.42,278.80 C262.68,278.72 266.94,277.67 271.20,276.70 C275.46,275.73 279.72,274.08 283.98,273.00 C288.24,271.92 292.50,270.67 296.76,270.20 C301.02,269.73 305.28,269.90 309.54,270.20 C313.80,270.50 318.06,271.50 322.32,272.00 C326.58,272.50 332.97,273.00 335.10,273.20" fill="none" stroke="#000" stroke-width="1.1" stroke-dasharray="3,2.2"/>
<path d="M105.06,319.30 C107.19,318.65 113.58,316.62 117.84,315.40 C122.10,314.18 126.36,312.72 130.62,312.00 C134.88,311.28 139.14,310.57 143.40,311.10 C147.66,311.63 151.92,313.98 156.18,315.20 C160.44,316.42 164.70,317.92 168.96,318.40 C173.22,318.88 177.48,318.57 181.74,318.10 C186.00,317.63 190.26,316.40 194.52,315.60 C198.78,314.80 203.04,313.57 207.30,313.30 C211.56,313.03 215.82,313.30 220.08,314.00 C224.34,314.70 228.60,316.53 232.86,317.50 C237.12,318.47 241.38,319.60 245.64,319.80 C249.90,320.00 254.16,319.28 258.42,318.70 C262.68,318.12 266.94,316.98 271.20,316.30 C275.46,315.62 279.72,314.68 283.98,314.60 C288.24,314.52 292.50,315.22 296.76,315.80 C301.02,316.38 305.28,317.53 309.54,318.10 C313.80,318.67 318.06,319.20 322.32,319.20 C326.58,319.20 332.97,318.28 335.10,318.10" fill="none" stroke="#000" stroke-width="1.1" stroke-dasharray="3,2.2"/>
<path d="M105.06,333.30 C107.19,333.37 113.58,333.83 117.84,333.70 C122.10,333.57 126.36,333.67 130.62,332.50 C134.88,331.33 139.14,328.85 143.40,326.70 C147.66,324.55 151.92,320.97 156.18,319.60 C160.44,318.23 164.70,318.17 168.96,318.50 C173.22,318.83 177.48,321.02 181.74,321.60 C186.00,322.18 190.26,322.43 194.52,322.00 C198.78,321.57 203.04,320.60 207.30,319.00 C211.56,317.40 215.82,314.43 220.08,312.40 C224.34,310.37 228.60,307.45 232.86,306.80 C237.12,306.15 241.38,307.70 245.64,308.50 C249.90,309.30 254.16,310.88 258.42,311.60 C262.68,312.32 266.94,313.18 271.20,312.80 C275.46,312.42 279.72,310.77 283.98,309.30 C288.24,307.83 292.50,305.45 296.76,304.00 C301.02,302.55 305.28,300.78 309.54,300.60 C313.80,300.42 318.06,302.05 322.32,302.90 C326.58,303.75 332.97,305.23 335.10,305.70" fill="none" stroke="#000" stroke-width="1.1" stroke-dasharray="3,2.2"/>
<path d="M105.06,333.00 C107.19,333.05 113.58,333.55 117.84,333.30 C122.10,333.05 126.36,332.13 130.62,331.50 C134.88,330.87 139.14,330.12 143.40,329.50 C147.66,328.88 151.92,327.75 156.18,327.80 C160.44,327.85 164.70,328.88 168.96,329.80 C173.22,330.72 177.48,332.62 181.74,333.30 C186.00,333.98 190.26,333.83 194.52,333.90 C198.78,333.97 203.04,333.98 207.30,333.70 C211.56,333.42 215.82,332.70 220.08,332.20 C224.34,331.70 228.60,330.58 232.86,330.70 C237.12,330.82 241.38,332.30 245.64,332.90 C249.90,333.50 254.16,334.02 258.42,334.30 C262.68,334.58 266.94,334.55 271.20,334.60 C275.46,334.65 279.72,334.70 283.98,334.60 C288.24,334.50 292.50,334.13 296.76,334.00 C301.02,333.87 305.28,333.65 309.54,333.80 C313.80,333.95 318.06,334.60 322.32,334.90 C326.58,335.20 332.97,335.48 335.10,335.60" fill="none" stroke="#000" stroke-width="1.1" stroke-dasharray="3,2.2"/>
<path d="M105.06,284.90 l3.5,3.5 l-3.5,3.5 l-3.5,-3.5 z" fill="#fff" stroke="#22dd22" stroke-width="1.15"/>
<path d="M117.84,284.20 l3.5,3.5 l-3.5,3.5 l-3.5,-3.5 z" fill="#fff" stroke="#22dd22" stroke-width="1.15"/>
<path d="M130.62,280.30 l3.5,3.5 l-3.5,3.5 l-3.5,-3.5 z" fill="#fff" stroke="#22dd22" stroke-width="1.15"/>
<path d="M143.40,273.20 l3.5,3.5 l-3.5,3.5 l-3.5,-3.5 z" fill="#fff" stroke="#22dd22" stroke-width="1.15"/>
<path d="M156.18,269.50 l3.5,3.5 l-3.5,3.5 l-3.5,-3.5 z" fill="#fff" stroke="#22dd22" stroke-width="1.15"/>
<path d="M168.96,274.90 l3.5,3.5 l-3.5,3.5 l-3.5,-3.5 z" fill="#fff" stroke="#22dd22" stroke-width="1.15"/>
<path d="M181.74,277.90 l3.5,3.5 l-3.5,3.5 l-3.5,-3.5 z" fill="#fff" stroke="#22dd22" stroke-width="1.15"/>
<path d="M194.52,276.50 l3.5,3.5 l-3.5,3.5 l-3.5,-3.5 z" fill="#fff" stroke="#22dd22" stroke-width="1.15"/>
<path d="M207.30,274.20 l3.5,3.5 l-3.5,3.5 l-3.5,-3.5 z" fill="#fff" stroke="#22dd22" stroke-width="1.15"/>
<path d="M220.08,268.50 l3.5,3.5 l-3.5,3.5 l-3.5,-3.5 z" fill="#fff" stroke="#22dd22" stroke-width="1.15"/>
<path d="M232.86,268.50 l3.5,3.5 l-3.5,3.5 l-3.5,-3.5 z" fill="#fff" stroke="#22dd22" stroke-width="1.15"/>
<path d="M245.64,273.70 l3.5,3.5 l-3.5,3.5 l-3.5,-3.5 z" fill="#fff" stroke="#22dd22" stroke-width="1.15"/>
<path d="M258.42,275.30 l3.5,3.5 l-3.5,3.5 l-3.5,-3.5 z" fill="#fff" stroke="#22dd22" stroke-width="1.15"/>
<path d="M271.20,273.20 l3.5,3.5 l-3.5,3.5 l-3.5,-3.5 z" fill="#fff" stroke="#22dd22" stroke-width="1.15"/>
<path d="M283.98,269.50 l3.5,3.5 l-3.5,3.5 l-3.5,-3.5 z" fill="#fff" stroke="#22dd22" stroke-width="1.15"/>
<path d="M296.76,266.70 l3.5,3.5 l-3.5,3.5 l-3.5,-3.5 z" fill="#fff" stroke="#22dd22" stroke-width="1.15"/>
<path d="M309.54,266.70 l3.5,3.5 l-3.5,3.5 l-3.5,-3.5 z" fill="#fff" stroke="#22dd22" stroke-width="1.15"/>
<path d="M322.32,268.50 l3.5,3.5 l-3.5,3.5 l-3.5,-3.5 z" fill="#fff" stroke="#22dd22" stroke-width="1.15"/>
<path d="M335.10,269.70 l3.5,3.5 l-3.5,3.5 l-3.5,-3.5 z" fill="#fff" stroke="#22dd22" stroke-width="1.15"/>
<circle cx="105.06" cy="319.30" r="2.4" fill="#fff" stroke="#000" stroke-width="1.2"/>
<circle cx="117.84" cy="315.40" r="2.4" fill="#fff" stroke="#000" stroke-width="1.2"/>
<circle cx="130.62" cy="312.00" r="2.4" fill="#fff" stroke="#000" stroke-width="1.2"/>
<circle cx="143.40" cy="311.10" r="2.4" fill="#fff" stroke="#000" stroke-width="1.2"/>
<circle cx="156.18" cy="315.20" r="2.4" fill="#fff" stroke="#000" stroke-width="1.2"/>
<circle cx="168.96" cy="318.40" r="2.4" fill="#fff" stroke="#000" stroke-width="1.2"/>
<circle cx="181.74" cy="318.10" r="2.4" fill="#fff" stroke="#000" stroke-width="1.2"/>
<circle cx="194.52" cy="315.60" r="2.4" fill="#fff" stroke="#000" stroke-width="1.2"/>
<circle cx="207.30" cy="313.30" r="2.4" fill="#fff" stroke="#000" stroke-width="1.2"/>
<circle cx="220.08" cy="314.00" r="2.4" fill="#fff" stroke="#000" stroke-width="1.2"/>
<circle cx="232.86" cy="317.50" r="2.4" fill="#fff" stroke="#000" stroke-width="1.2"/>
<circle cx="245.64" cy="319.80" r="2.4" fill="#fff" stroke="#000" stroke-width="1.2"/>
<circle cx="258.42" cy="318.70" r="2.4" fill="#fff" stroke="#000" stroke-width="1.2"/>
<circle cx="271.20" cy="316.30" r="2.4" fill="#fff" stroke="#000" stroke-width="1.2"/>
<circle cx="283.98" cy="314.60" r="2.4" fill="#fff" stroke="#000" stroke-width="1.2"/>
<circle cx="296.76" cy="315.80" r="2.4" fill="#fff" stroke="#000" stroke-width="1.2"/>
<circle cx="309.54" cy="318.10" r="2.4" fill="#fff" stroke="#000" stroke-width="1.2"/>
<circle cx="322.32" cy="319.20" r="2.4" fill="#fff" stroke="#000" stroke-width="1.2"/>
<circle cx="335.10" cy="318.10" r="2.4" fill="#fff" stroke="#000" stroke-width="1.2"/>
<rect x="102.56" y="330.80" width="5" height="5" fill="#fff" stroke="#e0102a" stroke-width="1.2"/>
<rect x="115.34" y="331.20" width="5" height="5" fill="#fff" stroke="#e0102a" stroke-width="1.2"/>
<rect x="128.12" y="330.00" width="5" height="5" fill="#fff" stroke="#e0102a" stroke-width="1.2"/>
<rect x="140.90" y="324.20" width="5" height="5" fill="#fff" stroke="#e0102a" stroke-width="1.2"/>
<rect x="153.68" y="317.10" width="5" height="5" fill="#fff" stroke="#e0102a" stroke-width="1.2"/>
<rect x="166.46" y="316.00" width="5" height="5" fill="#fff" stroke="#e0102a" stroke-width="1.2"/>
<rect x="179.24" y="319.10" width="5" height="5" fill="#fff" stroke="#e0102a" stroke-width="1.2"/>
<rect x="192.02" y="319.50" width="5" height="5" fill="#fff" stroke="#e0102a" stroke-width="1.2"/>
<rect x="204.80" y="316.50" width="5" height="5" fill="#fff" stroke="#e0102a" stroke-width="1.2"/>
<rect x="217.58" y="309.90" width="5" height="5" fill="#fff" stroke="#e0102a" stroke-width="1.2"/>
<rect x="230.36" y="304.30" width="5" height="5" fill="#fff" stroke="#e0102a" stroke-width="1.2"/>
<rect x="243.14" y="306.00" width="5" height="5" fill="#fff" stroke="#e0102a" stroke-width="1.2"/>
<rect x="255.92" y="309.10" width="5" height="5" fill="#fff" stroke="#e0102a" stroke-width="1.2"/>
<rect x="268.70" y="310.30" width="5" height="5" fill="#fff" stroke="#e0102a" stroke-width="1.2"/>
<rect x="281.48" y="306.80" width="5" height="5" fill="#fff" stroke="#e0102a" stroke-width="1.2"/>
<rect x="294.26" y="301.50" width="5" height="5" fill="#fff" stroke="#e0102a" stroke-width="1.2"/>
<rect x="307.04" y="298.10" width="5" height="5" fill="#fff" stroke="#e0102a" stroke-width="1.2"/>
<rect x="319.82" y="300.40" width="5" height="5" fill="#fff" stroke="#e0102a" stroke-width="1.2"/>
<rect x="332.60" y="303.20" width="5" height="5" fill="#fff" stroke="#e0102a" stroke-width="1.2"/>
<path d="M105.06,330.30 l3,5 l-6,0 z" fill="#fff" stroke="#1010d0" stroke-width="1.05"/>
<path d="M117.84,330.60 l3,5 l-6,0 z" fill="#fff" stroke="#1010d0" stroke-width="1.05"/>
<path d="M130.62,328.80 l3,5 l-6,0 z" fill="#fff" stroke="#1010d0" stroke-width="1.05"/>
<path d="M143.40,326.80 l3,5 l-6,0 z" fill="#fff" stroke="#1010d0" stroke-width="1.05"/>
<path d="M156.18,325.10 l3,5 l-6,0 z" fill="#fff" stroke="#1010d0" stroke-width="1.05"/>
<path d="M168.96,327.10 l3,5 l-6,0 z" fill="#fff" stroke="#1010d0" stroke-width="1.05"/>
<path d="M181.74,330.60 l3,5 l-6,0 z" fill="#fff" stroke="#1010d0" stroke-width="1.05"/>
<path d="M194.52,331.20 l3,5 l-6,0 z" fill="#fff" stroke="#1010d0" stroke-width="1.05"/>
<path d="M207.30,331.00 l3,5 l-6,0 z" fill="#fff" stroke="#1010d0" stroke-width="1.05"/>
<path d="M220.08,329.50 l3,5 l-6,0 z" fill="#fff" stroke="#1010d0" stroke-width="1.05"/>
<path d="M232.86,328.00 l3,5 l-6,0 z" fill="#fff" stroke="#1010d0" stroke-width="1.05"/>
<path d="M245.64,330.20 l3,5 l-6,0 z" fill="#fff" stroke="#1010d0" stroke-width="1.05"/>
<path d="M258.42,331.60 l3,5 l-6,0 z" fill="#fff" stroke="#1010d0" stroke-width="1.05"/>
<path d="M271.20,331.90 l3,5 l-6,0 z" fill="#fff" stroke="#1010d0" stroke-width="1.05"/>
<path d="M283.98,331.90 l3,5 l-6,0 z" fill="#fff" stroke="#1010d0" stroke-width="1.05"/>
<path d="M296.76,331.30 l3,5 l-6,0 z" fill="#fff" stroke="#1010d0" stroke-width="1.05"/>
<path d="M309.54,331.10 l3,5 l-6,0 z" fill="#fff" stroke="#1010d0" stroke-width="1.05"/>
<path d="M322.32,332.20 l3,5 l-6,0 z" fill="#fff" stroke="#1010d0" stroke-width="1.05"/>
<path d="M335.10,332.90 l3,5 l-6,0 z" fill="#fff" stroke="#1010d0" stroke-width="1.05"/>
<circle cx="94.6" cy="260.20" r="2.4" fill="#fff" stroke="#000" stroke-width="1.2"/>
<text x="107.8" y="264" font-family="'Liberation Serif', serif" stroke="#000" stroke-width="0.12" font-size="10.5"><tspan font-style="italic">n</tspan>-InSb</text>
<rect x="146.7" y="257.70" width="5" height="5" fill="#fff" stroke="#e0102a" stroke-width="1.2"/>
<text x="161.5" y="264" font-family="'Liberation Serif', serif" stroke="#000" stroke-width="0.12" font-size="10.5">Active</text>
<path d="M202.4,257.40 l3,5 l-6,0 z" fill="#fff" stroke="#1010d0" stroke-width="1.2"/>
<text x="214.3" y="264" font-family="'Liberation Serif', serif" stroke="#000" stroke-width="0.12" font-size="10.5"><tspan font-style="italic">p</tspan>-InSb</text>
<path d="M256.3,256.70 l3.5,3.5 l-3.5,3.5 l-3.5,-3.5 z" fill="#fff" stroke="#22dd22" stroke-width="1.3"/>
<text x="268.9" y="264" font-family="'Liberation Serif', serif" stroke="#000" stroke-width="0.12" font-size="10.5">SiO<tspan font-size="7.5" dy="2.8">2</tspan></text>
</svg>
</body></html>
